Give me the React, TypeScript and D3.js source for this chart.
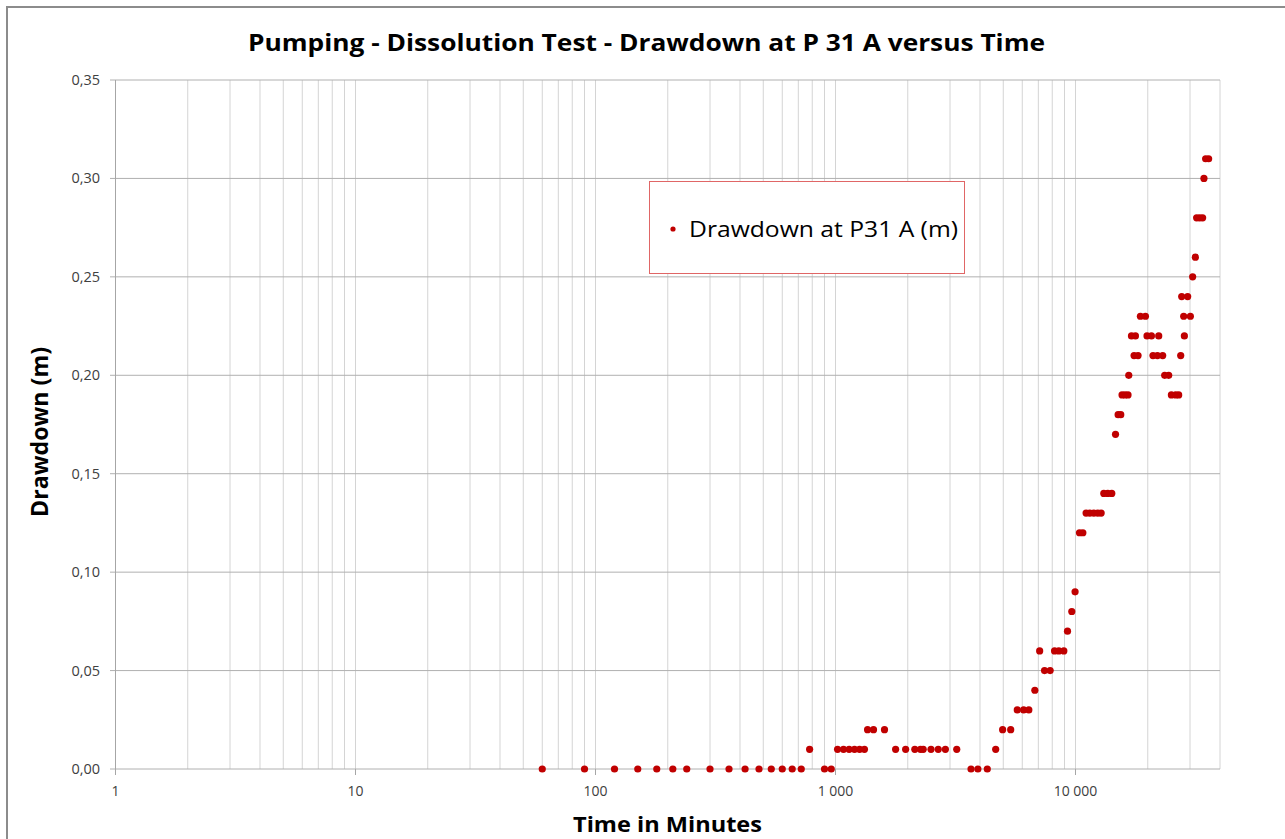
import * as d3 from 'd3';

// minutes since pumping start
const times = [
  60, 90, 120, 150, 180, 210, 240, 300, 360, 420, 480, 540, 600, 660, 720,
  780, 900, 960,
  1020, 1080, 1140, 1200, 1260, 1320,
  1360, 1440, 1600,
  1780, 1960, 2140, 2260, 2320, 2500, 2680, 2870, 3200,
  3670, 3920, 4290, 4650, 4970, 5370,
  5720, 6080, 6390, 6770, 7090, 7430, 7840,
  8180, 8520, 8940, 9260, 9650, 9960,
  10390, 10730, 11070, 11470, 11920, 12380, 12790,
  13120, 13630, 14160, 14680, 15050, 15440,
  15630, 16090, 16550, 16670,
  17110, 17540, 17770, 18220, 18640, 19560, 19860, 20720, 21030, 21950,
  22220, 23080, 23530, 24450, 25090, 26150, 26910, 27440, 27700, 28230,
  28420, 29330, 30100, 30770, 31580, 31970, 32910, 33860, 34290, 34850, 35870,
];

// drawdown in metres
const drawdown = [
  0, 0, 0, 0, 0, 0, 0, 0, 0, 0, 0, 0, 0, 0, 0,
  0.01, 0, 0,
  0.01, 0.01, 0.01, 0.01, 0.01, 0.01,
  0.02, 0.02, 0.02,
  0.01, 0.01, 0.01, 0.01, 0.01, 0.01, 0.01, 0.01, 0.01,
  0, 0, 0, 0.01, 0.02, 0.02,
  0.03, 0.03, 0.03, 0.04, 0.06, 0.05, 0.05,
  0.06, 0.06, 0.06, 0.07, 0.08, 0.09,
  0.12, 0.12, 0.13, 0.13, 0.13, 0.13, 0.13,
  0.14, 0.14, 0.14, 0.17, 0.18, 0.18,
  0.19, 0.19, 0.19, 0.2,
  0.22, 0.21, 0.22, 0.21, 0.23, 0.23, 0.22, 0.22, 0.21, 0.21,
  0.22, 0.21, 0.2, 0.2, 0.19, 0.19, 0.19, 0.21, 0.24, 0.23,
  0.22, 0.24, 0.23, 0.25, 0.26, 0.28, 0.28, 0.28, 0.3, 0.31, 0.31,
];

const yTicks = [0, 0.05, 0.1, 0.15, 0.2, 0.25, 0.3, 0.35];
const xTicks = [1, 10, 100, 1000, 10000];

const title = 'Pumping - Dissolution Test - Drawdown at P 31 A versus Time';
const seriesName = 'Drawdown at P31 A (m)';

const locale = d3.formatLocale({ decimal: ',', thousands: '\u00a0', grouping: [3], currency: ['', ''] });
const fmtX = locale.format(',d');
const fmtY = locale.format('.2f');

const W = 1285;
const H = 839;
const red = '#c00000';
const font = '"Open Sans", sans-serif';

export default function App() {
  const x = d3.scaleLog().domain([1, 40000]).range([115.5, 1220]);
  const y = d3.scaleLinear().domain([0, 0.35]).range([769, 80]);

  // minor log grid lines 1..9 per decade
  const vlines: number[] = [];
  xTicks.forEach(d => {
    for (let k = 1; k <= 9; k++) {
      if (k * d <= 40000) vlines.push(k * d);
    }
  });

  const pts = times.map((t, i) => ({ t, v: drawdown[i] }));

  return (
    <svg width={W} height={H} style={{ position: 'absolute', left: 0, top: 0, background: '#fff' }}>
      <rect x={7} y={7} width={W + 20} height={H + 20} fill="#fff" stroke="#8c8c8c" strokeWidth={2} />

      <text x={248} y={51} fontFamily={font} fontWeight="bold" fontSize={24} fill="#000"
        textLength={797} lengthAdjust="spacingAndGlyphs">{title}</text>

      {vlines.map(v => (
        <line key={'v' + v} x1={x(v)} x2={x(v)} y1={y(0.35)} y2={y(0)} stroke="#d4d4d4" strokeWidth={1} />
      ))}
      {yTicks.map(v => (
        <line key={'h' + v} x1={110} x2={1220} y1={y(v)} y2={y(v)} stroke="#b0b0b0" strokeWidth={1} />
      ))}
      <line x1={x(1)} x2={x(1)} y1={y(0.35)} y2={y(0) + 6} stroke="#a6a6a6" />
      {xTicks.map(v => (
        <line key={'t' + v} x1={x(v)} x2={x(v)} y1={y(0)} y2={y(0) + 6} stroke="#a6a6a6" />
      ))}

      {yTicks.map(v => (
        <text key={'yl' + v} x={100} y={y(v) + 5} textAnchor="end" fontFamily={font} fontSize={14.5} fill="#404040">{fmtY(v)}</text>
      ))}
      {xTicks.map(v => (
        <text key={'xl' + v} x={x(v)} y={796} textAnchor="middle" fontFamily={font} fontSize={14} fill="#404040">{fmtX(v)}</text>
      ))}

      {pts.map((p, i) => (
        <circle key={i} cx={x(p.t)} cy={y(p.v)} r={3.6} fill={red} />
      ))}

      <text x={573} y={832} fontFamily={font} fontWeight="bold" fontSize={22} fill="#000"
        textLength={189} lengthAdjust="spacingAndGlyphs">Time in Minutes</text>
      <text transform="translate(48,517) rotate(-90)" fontFamily={font} fontWeight="bold" fontSize={23} fill="#000"
        textLength={170} lengthAdjust="spacingAndGlyphs">Drawdown (m)</text>

      <rect x={649.5} y={181.5} width={315} height={92} fill="#fff" stroke="#e06666" strokeWidth={1} />
      <circle cx={673} cy={229} r={2.6} fill={red} />
      <text x={689} y={237} fontFamily={font} fontSize={22} fill="#000"
        textLength={269} lengthAdjust="spacingAndGlyphs">{seriesName}</text>
    </svg>
  );
}
